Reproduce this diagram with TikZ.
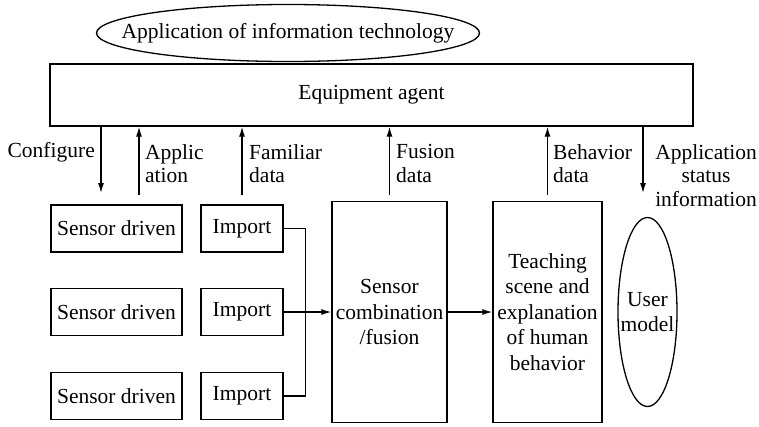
\documentclass[tikz,border=0pt]{standalone}
\usepackage{fontspec}
\setmainfont{Liberation Serif}
\usetikzlibrary{shapes.geometric,arrows.meta}
\begin{document}
\begin{tikzpicture}[x=1pt,y=-1pt,
  every node/.style={font=\fontsize{21.5}{25.5}\selectfont},
  line/.style={line width=1.3pt},
  arr/.style={line width=1.3pt,-{Latex[length=10pt,width=6pt]}},
  box/.style={draw,line width=1.3pt,rectangle,inner sep=0pt,align=center},
  oval/.style={draw,line width=1.3pt,ellipse,inner sep=0pt},
  lbl/.style={inner sep=0pt,font=\fontsize{21.5}{23.5}\selectfont}]
\useasboundingbox (0,0) rectangle (759,426);

% top level
\node[oval,minimum width=383pt,minimum height=57pt,
      label={center:Application of information technology}] (tech) at (288,33) {};
\node[box,minimum width=643pt,minimum height=62pt] (agent) at (371.5,95) {Equipment agent};

% sensors and imports
\foreach \i/\y in {1/228.5,2/312,3/396}{
  \node[box,minimum width=131pt,minimum height=47pt] (sen\i) at (116.5,\y) {Sensor driven};
  \node[box,minimum width=82pt,minimum height=47pt] (imp\i) at (242,\y) {Import};
}

% processing blocks
\node[box,minimum width=115pt,minimum height=221pt] (comb) at (389.5,312) {Sensor\\combination\\/fusion};
\node[box,minimum width=109pt,minimum height=221pt] (teach) at (547.5,312) {Teaching\\scene and\\explanation\\of human\\behavior};
\node[oval,minimum width=59pt,minimum height=189pt,
      label={[align=center]center:User\\model}] (user) at (647.5,312) {};

% free ends of the vertical links
\coordinate (cfgE) at (101,193);
\coordinate (appE) at (139,195);
\coordinate (famE) at (242,195);
\coordinate (fusE) at (389.5,195);
\coordinate (behE) at (547.5,195);
\coordinate (staE) at (643,193);

\draw[arr] (agent.south -| cfgE) -- (cfgE);
\draw[arr] (appE) -- (agent.south -| appE);
\draw[arr] (famE) -- (agent.south -| famE);
\draw[arr] (fusE) -- (agent.south -| fusE);
\draw[arr] (behE) -- (agent.south -| behE);
\draw[arr] (agent.south -| staE) -- (staE);

% link labels
\node[lbl,anchor=east] (lcfg) at (95,152) {Configure};
\node[lbl,anchor=west,align=left] (lapp) at (145,163.5) {Applic\\ation};
\node[lbl,anchor=west,align=left] (lfam) at (249,163.5) {Familiar\\data};
\node[lbl,anchor=west,align=left] (lfus) at (396,163.5) {Fusion\\data};
\node[lbl,anchor=west,align=left] (lbeh) at (553,163.5) {Behavior\\data};
\node[lbl,align=center] (lsta) at (706,175.5) {Application\\status\\information};

% data flow
\draw[line] (imp1.east) -- ++(22,0) |- (imp3.east);
\draw[arr] (imp2.east) -- (comb.west);
\draw[arr] (comb.east) -- (teach.west);
\end{tikzpicture}
\end{document}
